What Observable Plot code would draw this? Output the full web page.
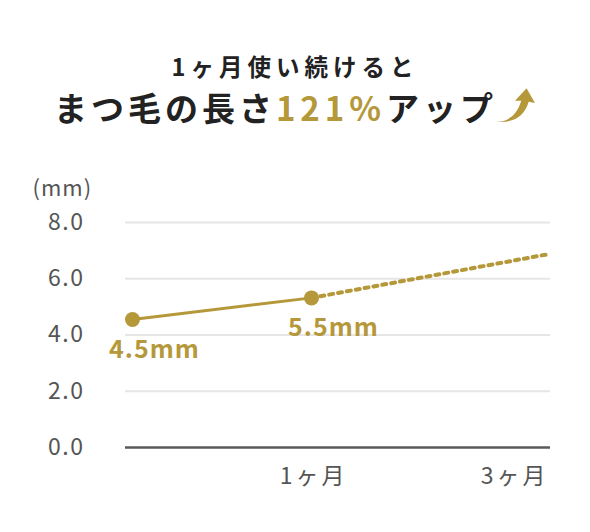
<!DOCTYPE html>
<html><head><meta charset="utf-8">
<script src="https://cdn.jsdelivr.net/npm/d3@7"></script>
<script src="https://cdn.jsdelivr.net/npm/@observablehq/plot@0.6"></script>
<style>
body{margin:0;background:#fff;font-family:"Noto Sans CJK JP",sans-serif;width:590px;height:532px;position:relative;overflow:hidden;}
#title{position:absolute;top:0;left:0;width:590px;text-align:center;color:#222;font-weight:700;}
.l1{position:absolute;top:50px;width:590px;font-size:23.5px;letter-spacing:5px;line-height:32px;}
.l2{position:absolute;top:84px;width:590px;font-size:33px;letter-spacing:4px;line-height:46px;white-space:nowrap;}
.gold{color:#b5983a;letter-spacing:5px;}
.l2 svg{vertical-align:-2px;margin-left:-3px;}
#chart{position:absolute;top:150px;left:0;}
#chart g[aria-label="y-axis tick label"] text{letter-spacing:1.5px;}
#chart g[aria-label="x-axis tick label"] text{letter-spacing:3px;}
#chart g[aria-label="text"] text{letter-spacing:1px;}
#chart text.unit{letter-spacing:3px;}
</style></head><body>
<div id="title">
  <div class="l1">1ヶ月使い続けると</div>
  <div class="l2">まつ毛の長さ<span class="gold">121%</span>アップ<svg width="42" height="36" viewBox="0 0 40 34"><path d="M2,33 Q20,33 26,13 L20,13 L31,1 L39,15 L33,14 Q27,35 2,33 Z" fill="#b5983a"/></svg></div>
</div>
<div id="chart"></div>
<script>
const months = [0, 1];
const lengths = [4.55, 5.32];
const valueLabels = ["4.5mm", "5.5mm"];
const projMonths = [1, 3.35];
const projLengths = [5.32, 6.87];
const yTicks = [0, 2, 4, 6, 8];
const gridTicks = [2, 4, 6, 8];
const xTickValues = [1, 3];
const xTickLabels = ["1ヶ月", "3ヶ月"];
const yUnit = "(mm)";

const gold = "#b5983a";
const gray = "#555555";

const measured = months.map((m, i) => ({m, v: lengths[i], label: valueLabels[i]}));
const projected = projMonths.map((m, i) => ({m, v: projLengths[i]}));
const xFmt = d => xTickLabels[xTickValues.indexOf(d)];

const chart = Plot.plot({
  width: 590,
  height: 382,
  marginLeft: 125,
  marginRight: 40,
  marginTop: 72,
  marginBottom: 85,
  style: {fontFamily: '"Noto Sans CJK JP", sans-serif', color: gray, background: "transparent"},
  x: {type: "linear", domain: [0, 1, 3], range: [132, 311, 512], clamp: false},
  y: {domain: [0, 8]},
  marks: [
    Plot.ruleY(gridTicks, {stroke: "#e6e6e6", strokeWidth: 2}),
    Plot.ruleY([0], {stroke: "#5a5a5a", strokeWidth: 2.5}),
    Plot.axisY({ticks: yTicks, tickFormat: d => d.toFixed(1), tickSize: 0, tickPadding: 41, fontSize: 23, label: null, fill: gray}),
    Plot.axisX({ticks: xTickValues, tickFormat: xFmt, tickSize: 0, tickPadding: 20, fontSize: 23, label: null, fill: gray, dx: 2}),
    Plot.text([yUnit], {frameAnchor: "top-left", dx: -93, dy: -42, textAnchor: "start", fontSize: 22, fill: gray}),
    Plot.line(projected, {x: "m", y: "v", stroke: gold, strokeWidth: 4, strokeDasharray: "4 5"}),
    Plot.line(measured, {x: "m", y: "v", stroke: gold, strokeWidth: 3}),
    Plot.dot(measured, {x: "m", y: "v", r: 7.5, fill: gold}),
    Plot.text(measured, {x: "m", y: "v", text: "label", dx: 22, dy: 30, fontSize: 25, fontWeight: 700, fill: gold})
  ]
});
d3.select(chart).selectAll("text").filter(function() { return this.textContent === yUnit; }).classed("unit", true);
document.getElementById("chart").appendChild(chart);
</script>
</body></html>
